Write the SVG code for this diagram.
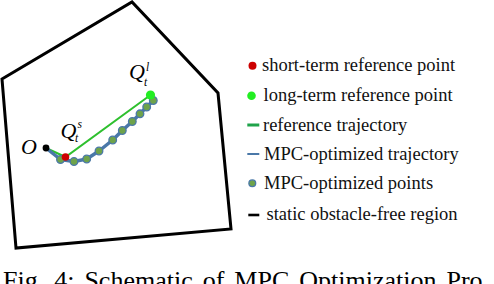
<svg xmlns="http://www.w3.org/2000/svg" width="494" height="284" viewBox="0 0 494 284">
<style>
.lbl{font-family:'Liberation Serif','DejaVu Serif',serif;font-style:italic;fill:#000}
.leg{font-family:'Liberation Serif','DejaVu Serif',serif;font-size:18.5px;fill:#111}
.cap{font-family:'Liberation Serif','DejaVu Serif',serif;font-size:26px;fill:#000}
.pt{fill:#6ea34a;stroke:#4a78a8;stroke-width:1.3}
</style>
<rect width="494" height="284" fill="#fff"/>
<g id="region">
<polygon points="2,79 132,2 218,93 231,229 16,248" fill="none" stroke="#000" stroke-width="3" stroke-linejoin="miter"/>
</g>
<g id="connectors">
<polyline id="reference-trajectory" points="46,148 65.5,157 150.5,95" fill="none" stroke="#2ec02e" stroke-width="2"/>
<polyline id="mpc-trajectory" points="46,148 60.5,159.5 74,161.5 86.7,159 99,151 112.7,140 122.3,130.5 132.3,121.5 140,113.8 146.7,107 153.3,100.5" fill="none" stroke="#4a78a8" stroke-width="3.5" stroke-linejoin="round"/>
</g>
<g id="mpc-points">
<circle class="pt" cx="60.5" cy="159.5" r="3.8"/>
<circle class="pt" cx="74" cy="161.5" r="3.8"/>
<circle class="pt" cx="86.7" cy="159" r="3.8"/>
<circle class="pt" cx="99" cy="151" r="3.8"/>
<circle class="pt" cx="112.7" cy="140" r="3.8"/>
<circle class="pt" cx="122.3" cy="130.5" r="3.8"/>
<circle class="pt" cx="132.3" cy="121.5" r="3.8"/>
<circle class="pt" cx="140" cy="113.8" r="3.8"/>
<circle class="pt" cx="146.7" cy="107" r="3.8"/>
<circle class="pt" cx="153.3" cy="100.5" r="3.8"/>
</g>
<g id="origin">
<circle cx="46" cy="148" r="3.4" fill="#000"/>
<text class="lbl" x="21" y="154" font-size="22">O</text>
</g>
<g id="short-term-point">
<circle cx="65.5" cy="157" r="3.8" fill="#cc0000"/>
<text class="lbl" x="60.5" y="137.5" font-size="22">Q</text>
<text class="lbl" x="77.5" y="127.5" font-size="11.5">s</text>
<text class="lbl" x="75" y="142" font-size="11.5">t</text>
</g>
<g id="long-term-point">
<circle cx="150.5" cy="95" r="4.6" fill="#22ee22"/>
<text class="lbl" x="129" y="79" font-size="22">Q</text>
<text class="lbl" x="146" y="70.5" font-size="11.5">l</text>
<text class="lbl" x="144" y="85.5" font-size="11.5">t</text>
</g>
<g id="legend">
<circle cx="252.5" cy="65.7" r="4" fill="#cc0000"/>
<text class="leg" x="262" y="71">short-term reference point</text>
<circle cx="251.5" cy="95.7" r="4.3" fill="#22ee22"/>
<text class="leg" x="263.5" y="100.5">long-term reference point</text>
<line x1="247.3" y1="125" x2="259.3" y2="125" stroke="#1fa34a" stroke-width="3"/>
<text class="leg" x="263" y="130.5">reference trajectory</text>
<line x1="247.3" y1="154" x2="259.3" y2="154" stroke="#4a78a8" stroke-width="2"/>
<text class="leg" x="264" y="160">MPC-optimized trajectory</text>
<circle class="pt" cx="252.3" cy="183.3" r="3.4"/>
<text class="leg" x="264" y="189">MPC-optimized points</text>
<line x1="248.3" y1="215" x2="259.3" y2="215" stroke="#000" stroke-width="2.6"/>
<text class="leg" x="266.5" y="220">static obstacle-free region</text>
</g>
<text class="cap" x="3" y="289" word-spacing="3.5">Fig. 4: Schematic of MPC Optimization Pro</text>
</svg>
